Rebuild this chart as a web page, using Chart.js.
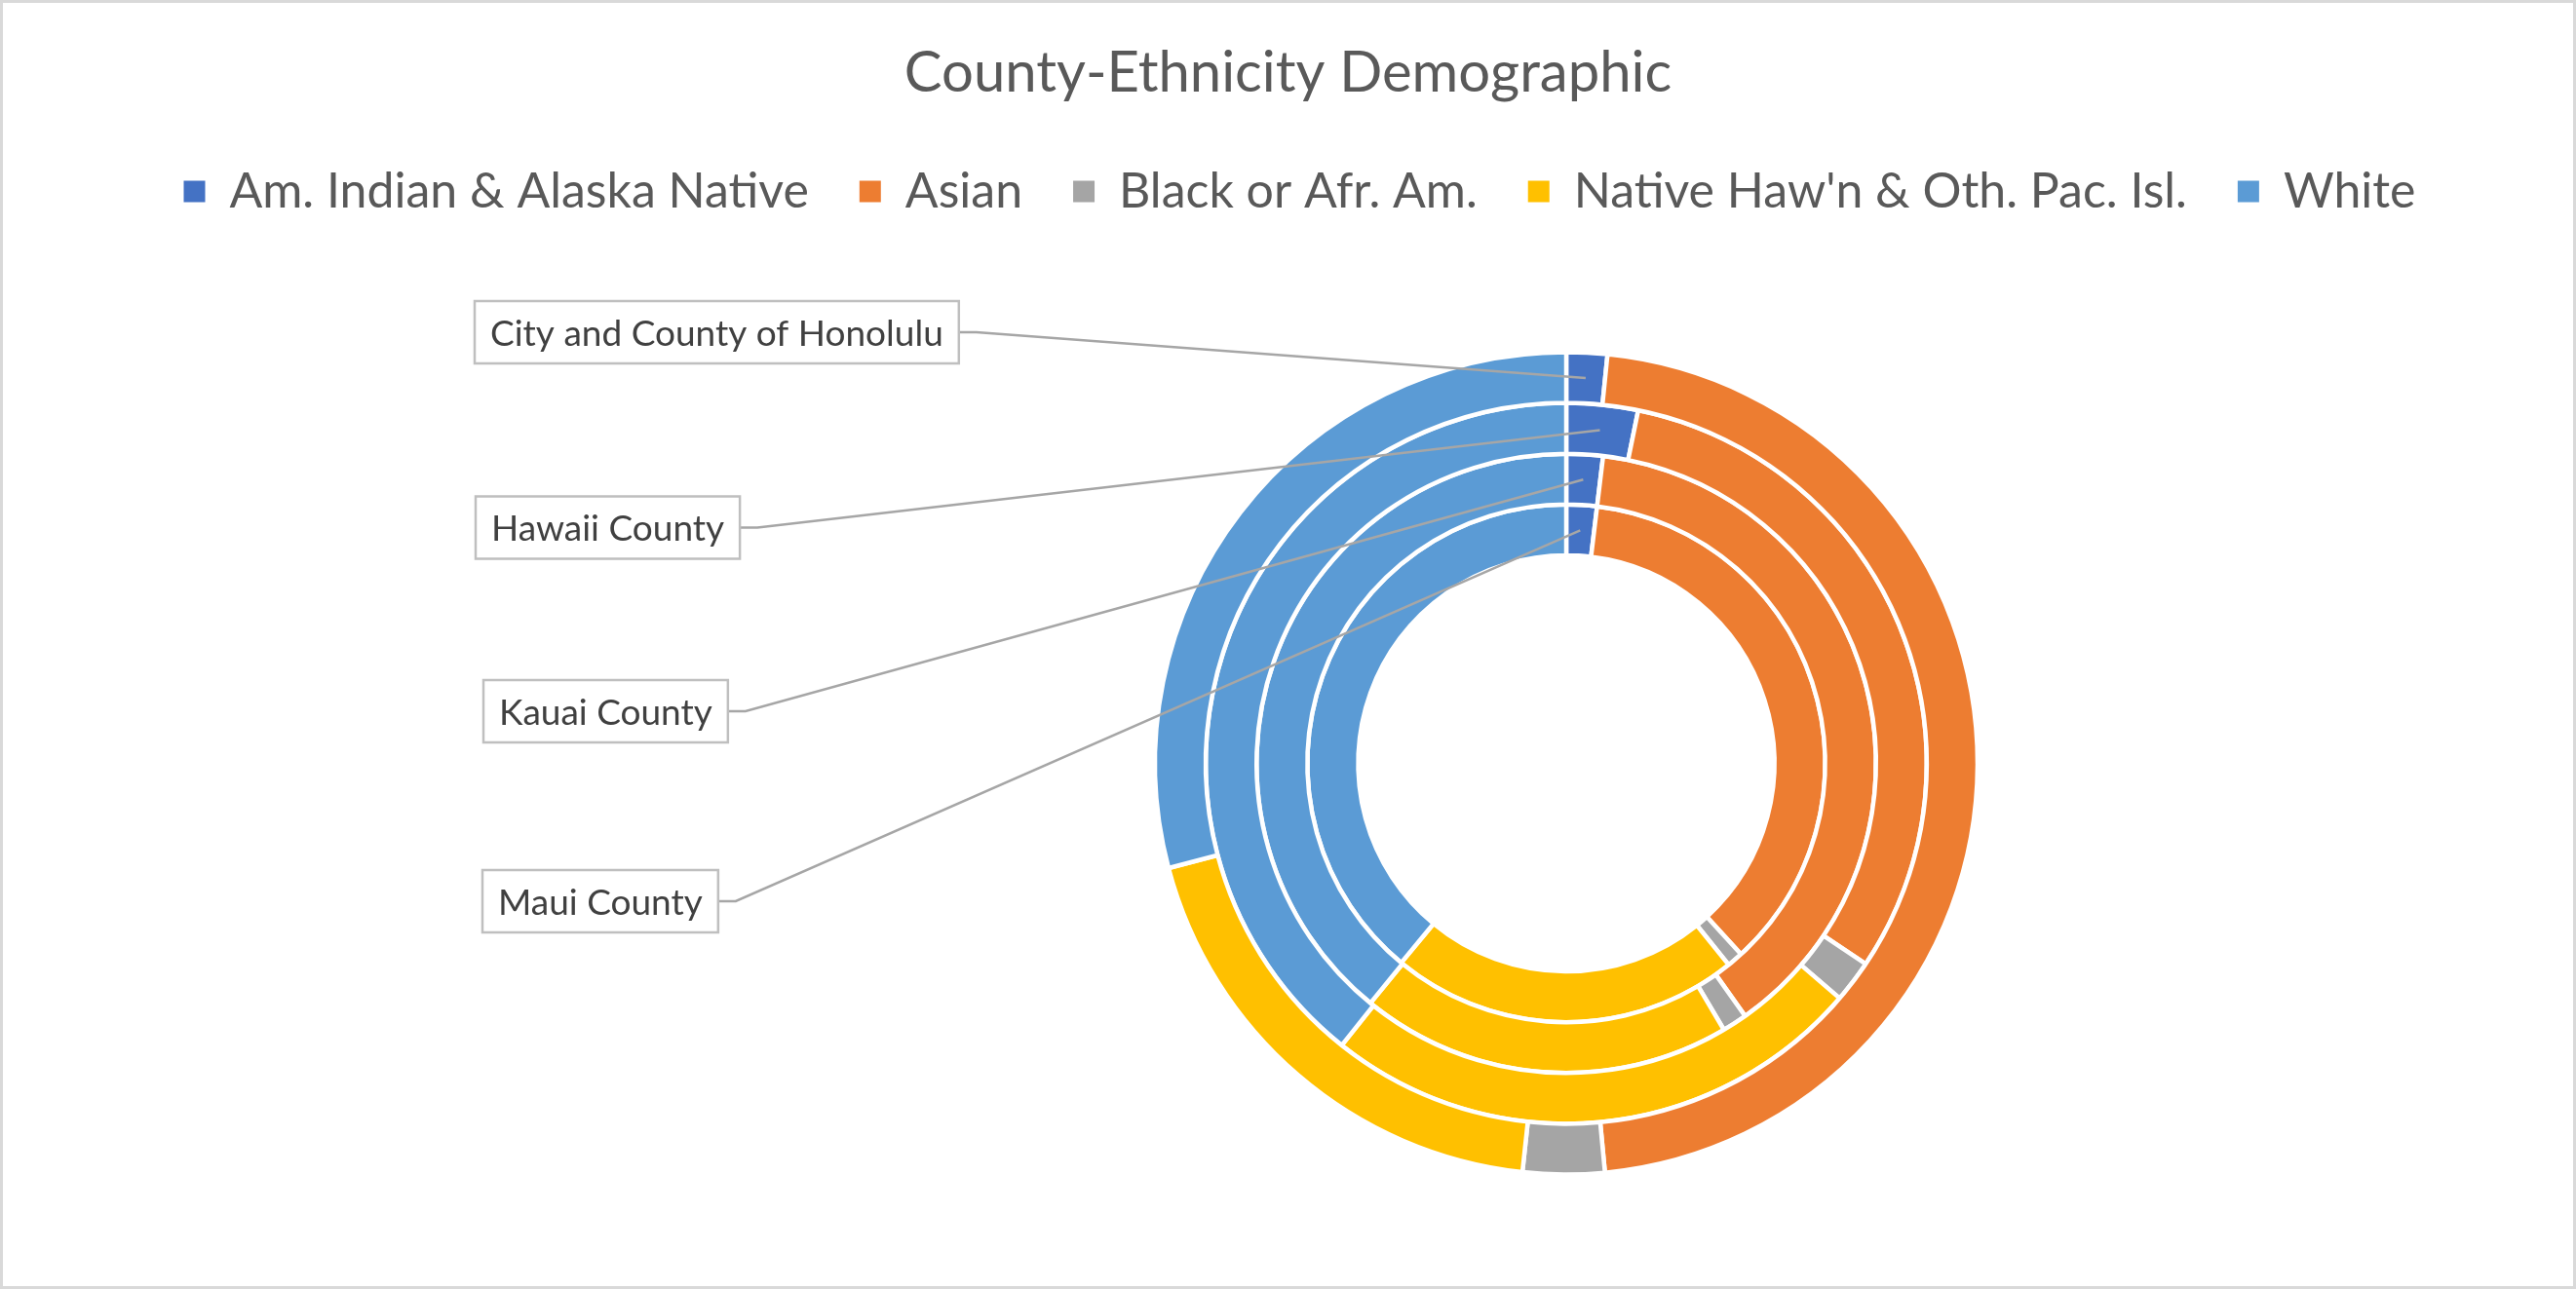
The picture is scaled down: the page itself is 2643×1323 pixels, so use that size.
<!DOCTYPE html>
<html>
<head>
<meta charset="utf-8">
<title>County-Ethnicity Demographic</title>
<script src="https://cdn.jsdelivr.net/npm/chart.js@4.4.1/dist/chart.umd.min.js"></script>
<style>
  html, body { margin: 0; padding: 0; background: #fff; }
  #wrap { width: 2643px; height: 1323px; position: relative; }
</style>
</head>
<body>
<div id="wrap"><canvas id="myChart"></canvas></div>
<script>
'use strict';

let ethnicities = ['Am. Indian & Alaska Native', 'Asian', 'Black or Afr. Am.', "Native Haw'n & Oth. Pac. Isl.", 'White'];
let counties = ['City and County of Honolulu', 'Hawaii County', 'Kauai County', 'Maui County'];
// share of each county's population in percent
let honoluluValues = [1.6, 46.9, 3.2, 19.2, 29.1];
let hawaiiValues = [3.2, 31.2, 1.9, 24.4, 39.3];
let kauaiValues = [1.9, 38.3, 1.3, 19.4, 39.1];
let mauiValues = [1.9, 36.3, 1.0, 21.8, 39.0];
let countyValues = [honoluluValues, hawaiiValues, kauaiValues, mauiValues];

let sliceColors = ['#4472C4', '#ED7D31', '#A5A5A5', '#FFC000', '#5B9BD5'];
let textColor = '#595959';
let fontName = 'Lato';

// layout: where the doughnut sits and where the county tags go
let ringCenter = { x: 1607, y: 783.5 };
let legendNudge = 12;
let tagLeft = [487, 488, 496, 495];
let tagMiddle = [341, 541.5, 730, 925];

let paperPlugin = {
    id: 'paper',
    beforeDraw(chart) {
        let ctx = chart.ctx;
        ctx.save();
        ctx.fillStyle = '#ffffff';
        ctx.fillRect(0, 0, chart.width, chart.height);
        ctx.strokeStyle = '#D9D9D9';
        ctx.lineWidth = 3;
        ctx.strokeRect(1.5, 1.5, chart.width - 3, chart.height - 3);
        ctx.restore();
    }
};

// move the plot area so the rings sit right of centre like in the original
let shiftPlugin = {
    id: 'shiftRing',
    afterLayout(chart) {
        let area = chart.chartArea;
        let dx = ringCenter.x - (area.left + area.right) / 2;
        let dy = ringCenter.y - (area.top + area.bottom) / 2;
        area.left += dx;
        area.right += dx;
        area.top += dy;
        area.bottom += dy;
        chart.legend.left += legendNudge;
        chart.legend.right += legendNudge;
    }
};

let tagPlugin = {
    id: 'countyTags',
    afterDatasetsDraw(chart) {
        let ctx = chart.ctx;
        ctx.save();
        ctx.font = '37px ' + fontName;
        ctx.textBaseline = 'middle';
        for (let i = 0; i < counties.length; i++) {
            let arc = chart.getDatasetMeta(i).data[0];
            let target = arc.getCenterPoint();
            let textW = ctx.measureText(counties[i]).width;
            let boxW = textW + 32;
            let boxH = 64;
            let x = tagLeft[i];
            let y = tagMiddle[i];
            ctx.strokeStyle = '#A6A6A6';
            ctx.lineWidth = 2.5;
            ctx.beginPath();
            ctx.moveTo(x + boxW, y);
            ctx.lineTo(x + boxW + 18, y);
            ctx.lineTo(target.x, target.y);
            ctx.stroke();
            ctx.fillStyle = '#ffffff';
            ctx.fillRect(x, y - boxH / 2, boxW, boxH);
            ctx.strokeStyle = '#BFBFBF';
            ctx.strokeRect(x, y - boxH / 2, boxW, boxH);
            ctx.fillStyle = '#404040';
            ctx.fillText(counties[i], x + 16, y + 2);
        }
        ctx.restore();
    }
};

let datasets = [];
for (let i = 0; i < counties.length; i++) {
    datasets.push({
        label: counties[i],
        data: countyValues[i],
        backgroundColor: sliceColors,
        borderColor: '#ffffff',
        borderWidth: 4.5
    });
}

let ctx = document.getElementById('myChart').getContext('2d');
let myChart = new Chart(ctx, {
    type: 'doughnut',
    data: {
        labels: ethnicities,
        datasets: datasets
    },
    options: {
        responsive: true,
        maintainAspectRatio: false,
        animation: false,
        radius: 422,
        cutout: '50.6%',
        layout: { padding: 0 },
        plugins: {
            title: {
                display: true,
                text: 'County-Ethnicity Demographic',
                color: textColor,
                font: { family: fontName, size: 58, weight: 'normal' },
                padding: { top: 40, bottom: 10 }
            },
            legend: {
                position: 'top',
                labels: {
                    color: textColor,
                    font: { family: fontName, size: 50 },
                    boxWidth: 22,
                    boxHeight: 22,
                    padding: 52,
                    generateLabels: function (chart) {
                        return chart.data.labels.map(function (name, i) {
                            return {
                                text: name,
                                fillStyle: sliceColors[i],
                                strokeStyle: sliceColors[i],
                                lineWidth: 0,
                                fontColor: textColor,
                                hidden: false,
                                index: i
                            };
                        });
                    }
                }
            },
            tooltip: { enabled: false }
        }
    },
    plugins: [paperPlugin, shiftPlugin, tagPlugin]
});
</script>
</body>
</html>
